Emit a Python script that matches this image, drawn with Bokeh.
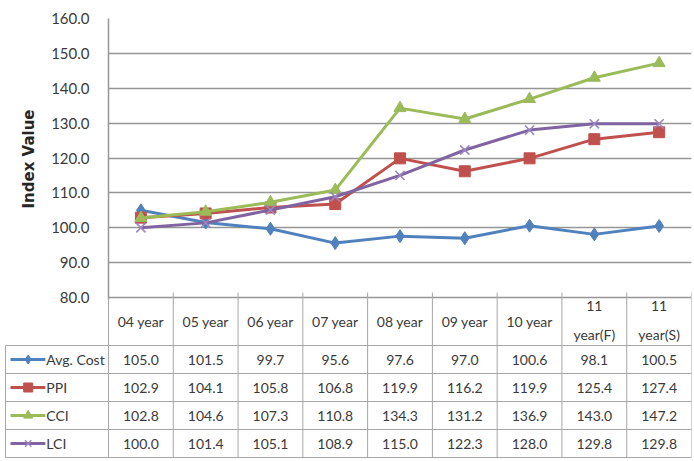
from bokeh.plotting import figure
from bokeh.models import Range1d, FixedTicker, NumeralTickFormatter
from bokeh.core.properties import value
from bokeh.embed import file_html
from bokeh.resources import INLINE

# ---- data ----
categories = ["04 year", "05 year", "06 year", "07 year", "08 year",
              "09 year", "10 year", "11 year(F)", "11 year(S)"]
header_top = ["", "", "", "", "", "", "", "11", "11"]
header_bottom = ["", "", "", "", "", "", "", "year(F)", "year(S)"]
header_single = ["04 year", "05 year", "06 year", "07 year", "08 year",
                 "09 year", "10 year", "", ""]
series_names = ["Avg. Cost", "PPI", "CCI", "LCI"]
avg_cost = [105.0, 101.5, 99.7, 95.6, 97.6, 97.0, 100.6, 98.1, 100.5]
ppi = [102.9, 104.1, 105.8, 106.8, 119.9, 116.2, 119.9, 125.4, 127.4]
cci = [102.8, 104.6, 107.3, 110.8, 134.3, 131.2, 136.9, 143.0, 147.2]
lci = [100.0, 101.4, 105.1, 108.9, 115.0, 122.3, 128.0, 129.8, 129.8]
y_ticks = [80, 90, 100, 110, 120, 130, 140, 150, 160]

series = [avg_cost, ppi, cci, lci]
colors = ["#4F81BD", "#C0504D", "#9BBB59", "#8064A2"]
markers = ["diamond", "square", "triangle", "x"]
msizes = [13, 11, 12, 13]
key_msizes = [9, 9, 9, 9]

FONT = "Lato"
TXT = "#3a3a3a"
GRID = "#969696"
TLINE = "#a6a6a6"
OVERLAP = 12      # extra room below chart frame for the lowest tick label
PAD_TOP = 10      # extra room above table header so header text is not clipped

n = len(categories)
xs = [i + 0.5 for i in range(n)]
bounds = list(range(n + 1))

# ---- chart ----
p = figure(width=694, height=299 + OVERLAP, x_range=Range1d(0, n),
           y_range=Range1d(79.43, 160), output_backend="svg",
           toolbar_location=None, x_axis_location=None,
           min_border_left=108, min_border_right=3,
           min_border_top=18, min_border_bottom=OVERLAP)
p.outline_line_color = None
p.xgrid.visible = False
p.ygrid.grid_line_color = GRID
p.ygrid.grid_line_width = 1.5
p.yaxis.ticker = FixedTicker(ticks=y_ticks)
p.yaxis.formatter = NumeralTickFormatter(format="0.0")
p.yaxis.major_tick_out = 0
p.yaxis.major_tick_in = 0
p.yaxis.minor_tick_out = 0
p.yaxis.minor_tick_in = 0
p.yaxis.axis_line_color = GRID
p.yaxis.axis_line_width = 1.5
p.yaxis.major_label_standoff = 19
p.yaxis.major_label_text_font = FONT
p.yaxis.major_label_text_font_size = "15px"
p.yaxis.major_label_text_color = TXT
p.yaxis.axis_label = "Index Value"
p.yaxis.axis_label_text_font = "DejaVu Sans"
p.yaxis.axis_label_text_font_style = "bold"
p.yaxis.axis_label_text_font_size = "15px"
p.yaxis.axis_label_text_color = "#262626"
p.yaxis.axis_label_standoff = 10

for vals, c, m, s in zip(series, colors, markers, msizes):
    p.line(xs, vals, line_color=c, line_width=3)
    if m == "x":
        p.scatter(xs, vals, marker=m, size=s, line_color="#9b87bd", line_width=1.6)
    else:
        p.scatter(xs, vals, marker=m, size=s, fill_color=c, line_color=c)

# ---- table ----
HEADER_H = 48
ROW_H = 28
TICK_UP = 5
left_edge = -1.59
t = figure(width=694, height=162 + PAD_TOP, x_range=Range1d(-1.621, n),
           y_range=Range1d(164, 2 - PAD_TOP), output_backend="svg",
           toolbar_location=None, x_axis_location=None, y_axis_location=None,
           min_border_left=3, min_border_right=3,
           min_border_top=0, min_border_bottom=0)
t.outline_line_color = None
t.grid.visible = False
t.background_fill_alpha = 0
t.border_fill_alpha = 0
t.styles = {"margin-top": "-%dpx" % (OVERLAP + PAD_TOP)}

row_lines = [HEADER_H + ROW_H * k for k in range(len(series) + 1)]
table_bottom = row_lines[-1]
t.segment(x0=[left_edge] * len(row_lines), y0=row_lines,
          x1=[n] * len(row_lines), y1=row_lines, line_color=TLINE, line_width=1)
t.segment(x0=bounds[1:], y0=[-TICK_UP] * n, x1=bounds[1:],
          y1=[table_bottom] * n, line_color=TLINE, line_width=1)
t.segment(x0=[0], y0=[0], x1=[0], y1=[table_bottom], line_color=TLINE, line_width=1)
t.segment(x0=[left_edge], y0=[HEADER_H], x1=[left_edge], y1=[table_bottom],
          line_color=TLINE, line_width=1)

tstyle = dict(text_font=value(FONT), text_font_size="14px", text_color=TXT,
              text_align="center", text_baseline="middle")
t.text(x=xs, y=[HEADER_H / 2] * n, text=header_single, **tstyle)
t.text(x=xs, y=[HEADER_H / 2 - 16] * n, text=header_top, **tstyle)
t.text(x=xs, y=[HEADER_H / 2 + 13] * n, text=header_bottom, **tstyle)

for r, (name, vals, c, m) in enumerate(zip(series_names, series, colors, markers)):
    yc = HEADER_H + ROW_H * r + ROW_H / 2
    t.text(x=xs, y=[yc] * n, text=["%.1f" % v for v in vals], **tstyle)
    # legend key
    t.line([-1.513, -0.975], [yc, yc], line_color=c, line_width=3)
    if m == "x":
        t.scatter([-1.24], [yc], marker=m, size=key_msizes[r], line_color="#9b87bd", line_width=1.4)
    else:
        t.scatter([-1.24], [yc], marker=m, size=key_msizes[r], fill_color=c, line_color=c)
    t.text(x=[-0.96], y=[yc], text=[name], text_font=value(FONT),
           text_font_size="14px", text_color=TXT, text_align="left",
           text_baseline="middle")

open("out.html", "w").write(file_html([p, t], INLINE))
